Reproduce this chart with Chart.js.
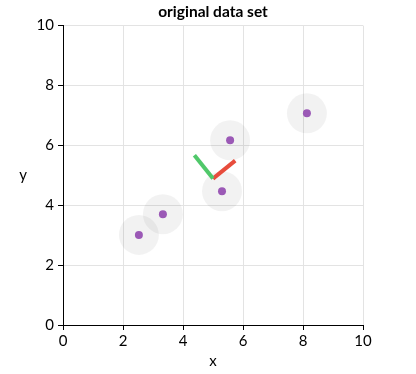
<!DOCTYPE html>
<html>
<head>
<meta charset="utf-8">
<script src="https://cdn.jsdelivr.net/npm/chart.js@4"></script>
<style>
  html, body { margin: 0; padding: 0; background: #fff; }
  #wrap { width: 416px; height: 374px; }
</style>
</head>
<body>
<div id="wrap"><canvas id="myChart"></canvas></div>
<script>
// points
var xs = [2.53, 3.33, 5.3, 5.57, 8.13];
var ys = [3.01, 3.7, 4.47, 6.17, 7.07];
// centre of the data and the two direction segments
var centre = [5.0, 4.89];
var greenEnd = [4.38, 5.67];
var redEnd = [5.74, 5.49];
var axisTicks = [0, 2, 4, 6, 8, 10];

var pts = xs.map(function (x, i) { return { x: x, y: ys[i] }; });

// upright "y" label left of the axis
var yLabel = {
    id: 'yLabel',
    afterDraw: function (chart) {
        var c = chart.ctx, a = chart.chartArea;
        c.save();
        c.font = '15px Lato';
        c.fillStyle = '#000';
        c.textAlign = 'center';
        c.textBaseline = 'middle';
        c.fillText('y', 23, (a.top + a.bottom) / 2);
        c.restore();
    }
};

var ctx = document.getElementById('myChart').getContext('2d');
Chart.defaults.font.family = 'Lato';
Chart.defaults.color = '#000';

var myChart = new Chart(ctx, {
    type: 'scatter',
    data: {
        datasets: [{
            label: 'halo',
            data: pts,
            pointRadius: 20,
            pointBorderWidth: 0,
            backgroundColor: 'rgba(0,0,0,0.05)',
            borderColor: 'rgba(0,0,0,0)',
            order: 3
        }, {
            label: 'points',
            data: pts,
            pointRadius: 4,
            pointBorderWidth: 0,
            backgroundColor: '#9b59b6',
            borderColor: '#9b59b6',
            order: 2
        }, {
            label: 'green',
            data: [{ x: centre[0], y: centre[1] }, { x: greenEnd[0], y: greenEnd[1] }],
            showLine: true,
            pointRadius: 0,
            borderColor: '#50c86a',
            borderWidth: 4,
            order: 1
        }, {
            label: 'red',
            data: [{ x: centre[0], y: centre[1] }, { x: redEnd[0], y: redEnd[1] }],
            showLine: true,
            pointRadius: 0,
            borderColor: '#e74c3c',
            borderWidth: 4,
            order: 1
        }]
    },
    options: {
        responsive: true,
        maintainAspectRatio: false,
        animation: false,
        events: [],
        layout: { padding: { left: 10, right: 0, top: 0, bottom: 0 } },
        plugins: {
            legend: { display: false },
            tooltip: { enabled: false },
            title: {
                display: true,
                text: 'original data set',
                font: { size: 15.5, weight: 'bold' },
                padding: { top: 3, bottom: 4 }
            }
        },
        scales: {
            x: {
                type: 'linear',
                min: 0,
                max: 10,
                afterBuildTicks: function (s) { s.ticks = axisTicks.map(function (v) { return { value: v }; }); },
                afterFit: function (s) { s.height = 49; },
                border: { color: '#000', width: 1 },
                grid: { color: '#e3e3e3', tickColor: '#000', tickLength: 5 },
                ticks: { font: { size: 15 }, padding: 2, maxRotation: 0 },
                title: { display: true, text: 'x', font: { size: 15 }, padding: { top: 0, bottom: 4 } }
            },
            y: {
                type: 'linear',
                min: 0,
                max: 10,
                afterBuildTicks: function (s) { s.ticks = axisTicks.map(function (v) { return { value: v }; }); },
                afterFit: function (s) { s.width = 53; },
                border: { color: '#000', width: 1 },
                grid: { color: '#e3e3e3', tickColor: '#000', tickLength: 5 },
                ticks: { font: { size: 15 }, padding: 4 }
            },
            spacer: {
                type: 'linear',
                position: 'right',
                display: true,
                afterFit: function (s) { s.width = 53; },
                border: { display: false },
                grid: { display: false, drawTicks: false },
                ticks: { display: false }
            }
        }
    },
    plugins: [yLabel]
});
</script>
</body>
</html>
